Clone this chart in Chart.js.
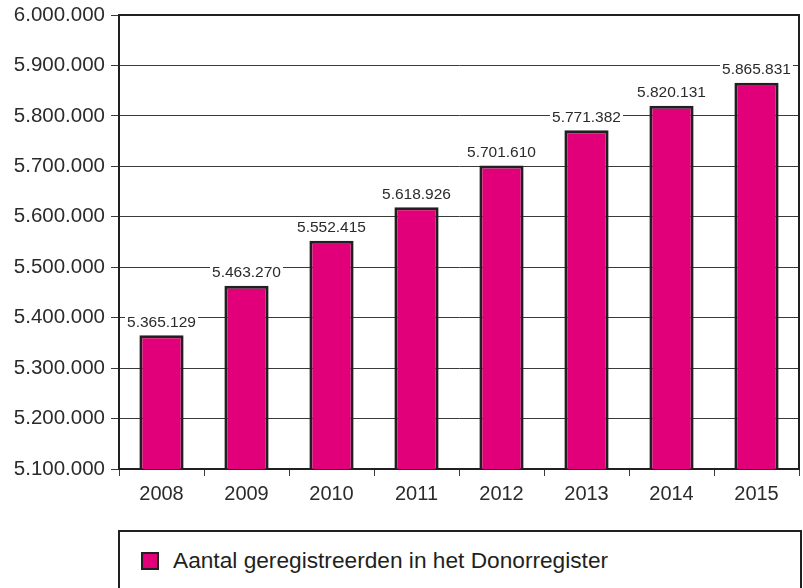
<!DOCTYPE html>
<html>
<head>
<meta charset="utf-8">
<script src="https://cdn.jsdelivr.net/npm/chart.js@4"></script>
<style>
  html, body { margin: 0; padding: 0; background: #fff; }
  #wrap { position: relative; width: 803px; height: 588px; overflow: hidden; }
  #chartBox { position: absolute; left: 0; top: 0; width: 803px; height: 520px; }
  #legendBox {
    position: absolute; left: 118px; top: 530px; width: 684px; height: 80px;
    border: 2px solid #231f20; box-sizing: border-box;
    font-family: 'Liberation Sans', Arial, sans-serif; font-size: 22.7px; color: #231f20;
  }
  #legendBox .swatch {
    position: absolute; left: 21px; top: 20px; width: 14px; height: 14px;
    background: #e2007a; border: 2px solid #231f20;
  }
  #legendBox .label { position: absolute; left: 53px; top: 15px; white-space: nowrap; }
</style>
</head>
<body>
<div id="wrap">
  <div id="chartBox"><canvas id="donorChart" width="803" height="520"></canvas></div>
  <div id="legendBox"><span class="swatch"></span><span class="label" id="legendLabel"></span></div>
</div>
<script>
// --- data ---
const years = ['2008', '2009', '2010', '2011', '2012', '2013', '2014', '2015'];
const registered = [5365129, 5463270, 5552415, 5618926, 5701610, 5771382, 5820131, 5865831];
const seriesName = 'Aantal geregistreerden in het Donorregister';
const yMin = 5100000;
const yMax = 6000000;
const yStep = 100000;

const COLORS = {
    bar: '#e2007a',
    ink: '#231f20',
    text: '#2b2b2b',
    grid: '#3a3a3a'
};
const FONT = "'Liberation Sans', Arial, sans-serif";

function dutch(n) {
    return String(n).replace(/\B(?=(\d{3})+(?!\d))/g, '.');
}

document.getElementById('legendLabel').textContent = seriesName;

// frame around plot area (top + right edges)
const framePlugin = {
    id: 'frame',
    afterDraw(chart) {
        const { ctx, chartArea: a } = chart;
        ctx.save();
        ctx.strokeStyle = COLORS.ink;
        ctx.lineWidth = 2;
        ctx.beginPath();
        ctx.moveTo(a.left, a.top);
        ctx.lineTo(a.right, a.top);
        ctx.lineTo(a.right, a.bottom);
        ctx.stroke();
        ctx.restore();
    }
};

// value labels above bars, on a white patch over the gridlines
const valueLabels = {
    id: 'valueLabels',
    afterDatasetsDraw(chart) {
        const { ctx } = chart;
        const meta = chart.getDatasetMeta(0);
        ctx.save();
        ctx.font = '15.5px ' + FONT;
        ctx.textAlign = 'center';
        ctx.textBaseline = 'middle';
        meta.data.forEach((bar, i) => {
            const txt = dutch(registered[i]);
            const w = ctx.measureText(txt).width;
            const y = bar.y - 14;
            ctx.fillStyle = '#fff';
            ctx.fillRect(bar.x - w / 2 - 2, y - 8, w + 4, 16);
            ctx.fillStyle = COLORS.text;
            ctx.fillText(txt, bar.x, y + 1);
        });
        ctx.restore();
    }
};

new Chart(document.getElementById('donorChart'), {
    type: 'bar',
    data: {
        labels: years,
        datasets: [{
            label: seriesName,
            data: registered,
            backgroundColor: COLORS.bar,
            borderColor: COLORS.ink,
            borderWidth: 3,
            borderSkipped: false,
            barPercentage: 0.52,
            categoryPercentage: 1
        }]
    },
    options: {
        responsive: false,
        animation: false,
        layout: { padding: { top: 15, right: 4, left: 0, bottom: 0 } },
        plugins: { legend: { display: false }, tooltip: { enabled: false } },
        scales: {
            x: {
                grid: { offset: true, drawOnChartArea: false, drawTicks: true, tickLength: 7, color: COLORS.grid, lineWidth: 1 },
                border: { display: true, color: COLORS.ink, width: 2 },
                ticks: { color: COLORS.text, font: { family: FONT, size: 20 }, padding: 6, maxRotation: 0 },
                afterFit(scale) { scale.height = 51; scale.paddingRight = 0; scale.paddingLeft = 0; }
            },
            y: {
                min: yMin,
                max: yMax,
                grid: { color: COLORS.grid, lineWidth: 1, tickLength: 8 },
                border: { display: true, color: COLORS.ink, width: 2 },
                ticks: {
                    stepSize: yStep,
                    color: COLORS.text,
                    font: { family: FONT, size: 20.5 },
                    padding: 6,
                    callback: v => dutch(v)
                },
                afterFit(scale) { scale.width = 119; scale.paddingTop = 0; scale.paddingBottom = 0; }
            }
        }
    },
    plugins: [framePlugin, valueLabels]
});
</script>
</body>
</html>
